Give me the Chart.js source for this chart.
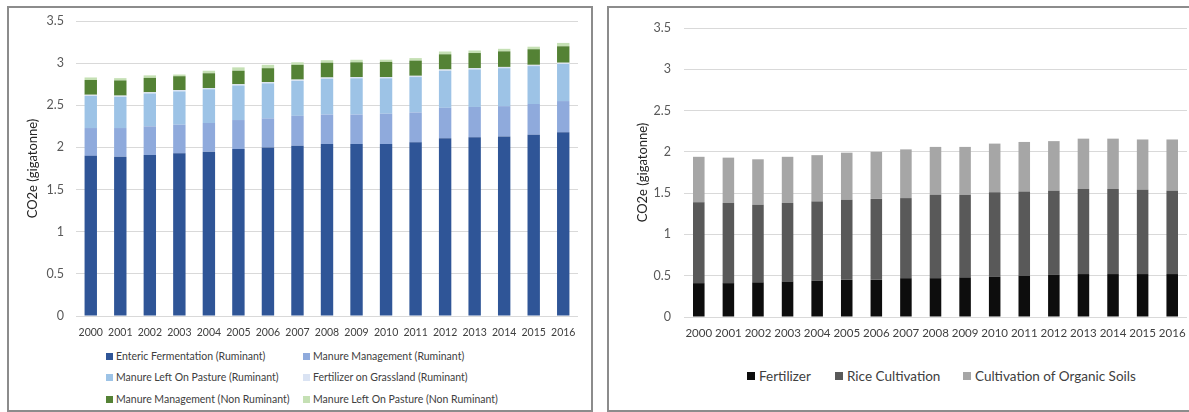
<!DOCTYPE html>
<html>
<head>
<meta charset="utf-8">
<script src="https://cdn.jsdelivr.net/npm/chart.js@4.4.1/dist/chart.umd.min.js"></script>
<style>
  body { margin: 0; background: #fff; overflow: hidden; width: 1189px; height: 412px; position: relative; font-family: Lato, "Open Sans", sans-serif; }
  .panel { position: absolute; border: 2px solid #8c8c8c; box-sizing: border-box; }
  .box { position: absolute; }
  .leg { position: absolute; white-space: nowrap; color: #404040; display: flex; align-items: center; }
  .leg span.sw { display: inline-block; margin-right: 3px; }
</style>
</head>
<body>
<div class="panel" style="left:7px; top:6px; width:586px; height:406px;"></div>
<div class="panel" style="left:607px; top:6px; width:600px; height:406px;"></div>
<div class="box" style="left:0; top:0; width:592px; height:345px;"><canvas id="chartLeft"></canvas></div>
<div class="box" style="left:600px; top:0; width:600px; height:345px;"><canvas id="chartRight"></canvas></div>
<div id="legendLeft"></div>
<div id="legendRight"></div>
<script>
/* categories */
const years = ["2000", "2001", "2002", "2003", "2004", "2005", "2006", "2007", "2008",
               "2009", "2010", "2011", "2012", "2013", "2014", "2015", "2016"];
const yTicks = [0, 0.5, 1, 1.5, 2, 2.5, 3, 3.5];

/* left chart: livestock emissions (gigatonne CO2e) */
const entericRum = [1.90, 1.89, 1.91, 1.93, 1.95, 1.98, 2.00, 2.02, 2.04, 2.04, 2.04, 2.06, 2.11, 2.12, 2.13, 2.15, 2.18];
const manureMgmtRum = [0.33, 0.34, 0.34, 0.34, 0.34, 0.345, 0.345, 0.355, 0.35, 0.35, 0.36, 0.355, 0.36, 0.36, 0.36, 0.365, 0.37];
const pastureRum = [0.38, 0.37, 0.39, 0.395, 0.40, 0.41, 0.415, 0.415, 0.425, 0.43, 0.42, 0.42, 0.44, 0.445, 0.45, 0.45, 0.44];
const fertGrassRum = [0.015, 0.015, 0.015, 0.015, 0.015, 0.015, 0.015, 0.015, 0.015, 0.015, 0.015, 0.015, 0.015, 0.015, 0.015, 0.015, 0.015];
const manureMgmtNonRum = [0.175, 0.18, 0.17, 0.165, 0.175, 0.16, 0.165, 0.175, 0.175, 0.175, 0.18, 0.18, 0.18, 0.18, 0.185, 0.185, 0.195];
const pastureNonRum = [0.03, 0.027, 0.03, 0.02, 0.03, 0.04, 0.04, 0.03, 0.03, 0.03, 0.026, 0.03, 0.033, 0.03, 0.03, 0.03, 0.04];

const leftNames = ["Enteric Fermentation (Ruminant)", "Manure Management (Ruminant)",
                   "Manure Left On Pasture (Ruminant)", "Fertilizer on Grassland (Ruminant)",
                   "Manure Management (Non Ruminant)", "Manure Left On Pasture (Non Ruminant)"];
const leftSeries = [entericRum, manureMgmtRum, pastureRum, fertGrassRum, manureMgmtNonRum, pastureNonRum];
const leftColors = ["#2f5597", "#8faadc", "#9dc3e6", "#dae3f3", "#548235", "#c5e0b4"];

/* right chart: crop emissions (gigatonne CO2e) */
const fertilizer = [0.41, 0.41, 0.42, 0.43, 0.44, 0.45, 0.45, 0.47, 0.47, 0.48, 0.49, 0.50, 0.51, 0.52, 0.52, 0.52, 0.52];
const riceCultivation = [0.98, 0.97, 0.94, 0.95, 0.96, 0.97, 0.98, 0.97, 1.01, 1.00, 1.02, 1.02, 1.02, 1.03, 1.03, 1.02, 1.01];
const organicSoils = [0.55, 0.55, 0.55, 0.56, 0.56, 0.57, 0.57, 0.59, 0.58, 0.58, 0.59, 0.60, 0.60, 0.61, 0.61, 0.61, 0.62];

const rightNames = ["Fertilizer", "Rice Cultivation", "Cultivation of Organic Soils"];
const rightSeries = [fertilizer, riceCultivation, organicSoils];
const rightColors = ["#0d0d0d", "#595959", "#a6a6a6"];

const FONT = "Lato";

function makeConfig(names, series, colors, opts) {
  return {
    type: "bar",
    data: {
      labels: years,
      datasets: names.map((n, i) => ({
        label: n,
        data: series[i],
        backgroundColor: colors[i],
        borderWidth: 0,
        barPercentage: 1,
        categoryPercentage: opts.barPct,
      })),
    },
    options: {
      responsive: true,
      maintainAspectRatio: false,
      animation: false,
      layout: { padding: opts.padding },
      plugins: { legend: { display: false }, tooltip: { enabled: false } },
      scales: {
        x: {
          stacked: true,
          grid: { display: false },
          border: { display: false },
          ticks: { color: "#404040", padding: opts.xPad, maxRotation: 0, autoSkip: false,
                   font: { family: FONT, size: opts.xFont } },
          afterFit: (s) => { s.height = opts.xHeight; },
        },
        y: {
          stacked: true,
          min: 0,
          max: 3.5,
          afterBuildTicks: (s) => { s.ticks = yTicks.map((v) => ({ value: v })); },
          grid: { color: "#d9d9d9", drawTicks: false, lineWidth: 1 },
          border: { display: false },
          ticks: { color: "#595959", padding: opts.yPad, font: { family: FONT, size: opts.yFont },
                   callback: (v) => String(v) },
          title: { display: true, text: "CO2e (gigatonne)", color: "#262626",
                   font: { family: FONT, size: 13 }, padding: { top: 4, bottom: 4 } },
          afterFit: (s) => { s.width = opts.yWidth; },
        },
      },
    },
  };
}

new Chart(document.getElementById("chartLeft"), makeConfig(leftNames, leftSeries, leftColors, {
  barPct: 0.42, padding: { left: 21, right: 14, top: 21, bottom: 0 },
  xFont: 10.5, xPad: 2, xHeight: 29, yFont: 12.5, yPad: 12, yWidth: 55,
}));

new Chart(document.getElementById("chartRight"), makeConfig(rightNames, rightSeries, rightColors, {
  barPct: 0.39, padding: { left: 31, right: 13, top: 28, bottom: 0 },
  xFont: 11.5, xPad: 1, xHeight: 28, yFont: 12.5, yPad: 13, yWidth: 53,
}));

/* HTML legends built from the series names and colours */
const legLeft = document.getElementById("legendLeft");
const leftRows = [356, 377, 399];
const leftCols = [106, 303];
leftNames.forEach((n, i) => {
  const d = document.createElement("div");
  d.className = "leg";
  d.style.left = leftCols[i % 2] + "px";
  d.style.top = (leftRows[Math.floor(i / 2)] - 8) + "px";
  d.style.height = "16px";
  d.style.fontSize = "10.5px";
  d.innerHTML = '<span class="sw" style="width:7px;height:7px;background:' + leftColors[i] + '"></span>' + n;
  legLeft.appendChild(d);
});

const legRight = document.getElementById("legendRight");
const rightCols = [747, 835, 963];
rightNames.forEach((n, i) => {
  const d = document.createElement("div");
  d.className = "leg";
  d.style.left = rightCols[i] + "px";
  d.style.top = "367px";
  d.style.height = "18px";
  d.style.fontSize = "13.5px";
  d.innerHTML = '<span class="sw" style="width:8px;height:8px;background:' + rightColors[i] + ';margin-right:4px"></span>' + n;
  legRight.appendChild(d);
});
</script>
</body>
</html>
